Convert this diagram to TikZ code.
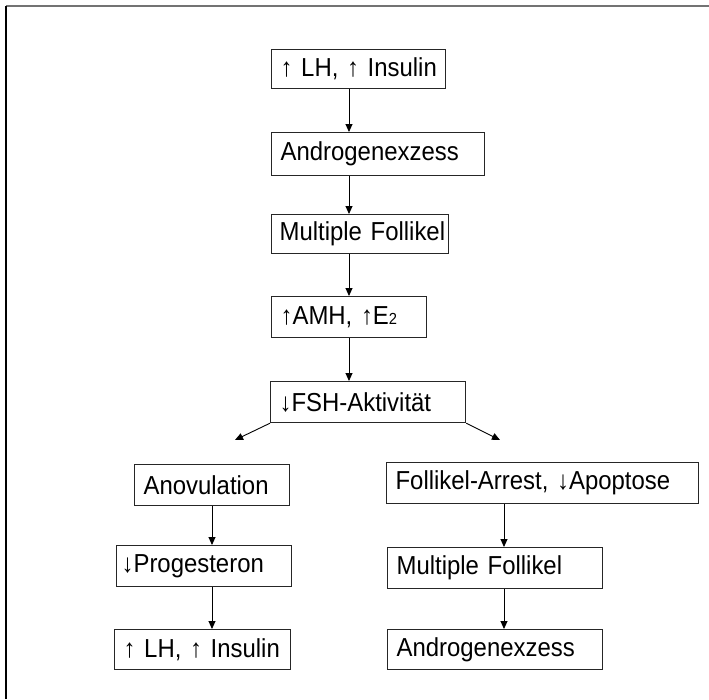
\documentclass[tikz,border=0pt]{standalone}
\usepackage{fontspec}
\setmainfont{Liberation Sans}[FakeStretch=0.92]
\usetikzlibrary{arrows.meta}

\tikzset{
  box/.style={draw=black!85, line width=1.2pt, anchor=north west, inner xsep=9pt, inner ysep=0pt,
    align=left, text width=#1, font=\fontsize{26}{30}\selectfont,
    execute at begin node={\hyphenpenalty=10000\exhyphenpenalty=10000}},
  arr/.style={-{Triangle[length=8pt,width=7pt]}, line width=0.9pt, black}
}

\begin{document}
\begin{tikzpicture}[x=1pt,y=-1pt]
\useasboundingbox (0,0) rectangle (709,699);
\def\boxh{41pt}

% frame
\draw[black!55, line width=2pt] (6,6) -- (709,6);
\draw[black, line width=2pt] (6,6) -- (6,699);

% main column
\node[box=156pt, minimum height=39pt] (lhtop) at (271,49) {↑~LH,~↑~Insulin};
\node[box=195pt, minimum height=43pt] (androtop) at (271,132) {Androgenexzess};
\node[box=161pt, inner xsep=8pt, minimum height=39pt] (folltop) at (271,214) {Multiple~Follikel};
\node[box=137pt, minimum height=\boxh] (amh) at (271,296) {↑AMH,~↑E{\fontsize{16}{16}\selectfont 2}};
\node[box=177pt, minimum height=\boxh] (fsh) at (270,381) {↓FSH-Aktivität};

% left branch
\node[box=137pt, minimum height=\boxh] (anov) at (134,464) {Anovulation};
\node[box=165pt, inner xsep=5pt, minimum height=\boxh] (prog) at (116,545) {↓Progesteron};
\node[box=158pt, minimum height=40pt] (lhbot) at (114,629) {↑~LH,~↑~Insulin};

% right branch
\node[box=294pt, minimum height=\boxh] (arrest) at (386,462) {Follikel-Arrest,~↓Apoptose};
\node[box=197pt, minimum height=\boxh] (follbot) at (387,547) {Multiple~Follikel};
\node[box=197pt, minimum height=40pt] (androbot) at (387,629) {Androgenexzess};

\coordinate (mainx) at (349,0);
\coordinate (leftx) at (212,0);
\coordinate (rightx) at (504,0);
\coordinate (lefttip) at (235,440);
\coordinate (righttip) at (500,440);

\draw[arr] (lhtop.south -| mainx) -- (androtop.north -| mainx);
\draw[arr] (androtop.south -| mainx) -- (folltop.north -| mainx);
\draw[arr] (folltop.south -| mainx) -- (amh.north -| mainx);
\draw[arr] (amh.south -| mainx) -- (fsh.north -| mainx);
\draw[arr] (fsh.south west) -- (lefttip);
\draw[arr] (fsh.south east) -- (righttip);

\draw[arr] (anov.south -| leftx) -- (prog.north -| leftx);
\draw[arr] (prog.south -| leftx) -- (lhbot.north -| leftx);
\draw[arr] (arrest.south -| rightx) -- (follbot.north -| rightx);
\draw[arr] (follbot.south -| rightx) -- (androbot.north -| rightx);
\end{tikzpicture}
\end{document}
